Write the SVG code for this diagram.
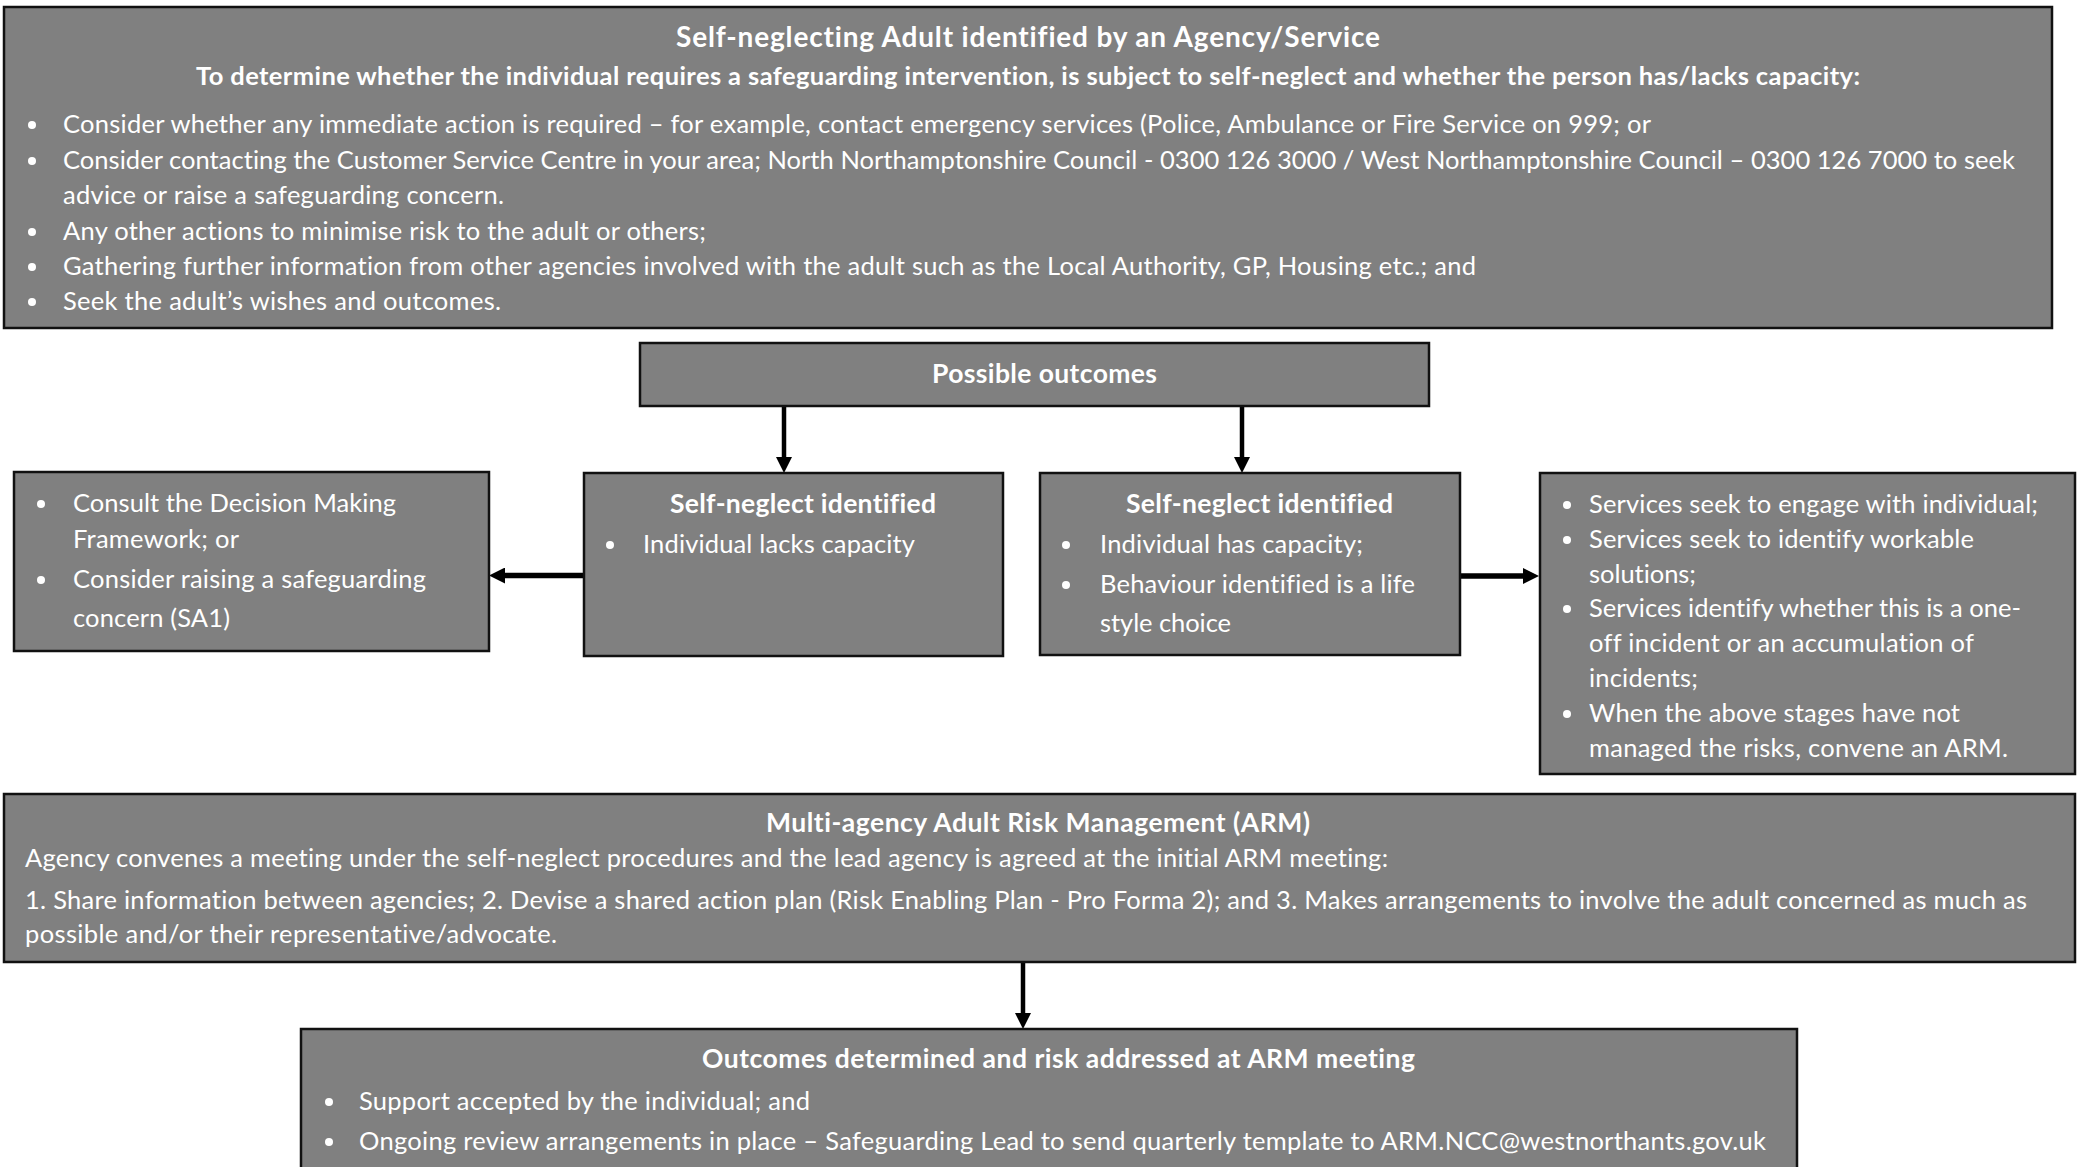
<svg xmlns="http://www.w3.org/2000/svg" width="2080" height="1167" viewBox="0 0 2080 1167">
<defs>
<style>
.box{fill:#808080;stroke:#111;stroke-width:2.5}
.t{font-family:Lato,'Open Sans','Liberation Sans',sans-serif;fill:#fff;font-size:25.5px;font-variant-ligatures:none}
.b{font-weight:bold;font-size:26.5px}
.h{font-weight:bold;font-size:28px}
.s{font-weight:bold;font-size:25.5px}
.dot{fill:#fff}
.conn{stroke:#000;fill:none}
.v{stroke-width:4.5}
.hz{stroke-width:5.5}
</style>
<marker id="ah" viewBox="0 0 16 16" markerWidth="16" markerHeight="16" refX="4" refY="8" orient="auto" markerUnits="userSpaceOnUse">
<path d="M0,0 L16,8 L0,16 z" fill="#000"/>
</marker>
</defs>
<rect width="2080" height="1167" fill="#fff"/>

<g id="connectors">
<path class="conn v" d="M784,406 V461" marker-end="url(#ah)"/>
<path class="conn v" d="M1242,406 V461" marker-end="url(#ah)"/>
<path class="conn hz" d="M584,575.5 H501" marker-end="url(#ah)"/>
<path class="conn hz" d="M1460,576 H1527" marker-end="url(#ah)"/>
<path class="conn v" d="M1023,962 V1017" marker-end="url(#ah)"/>
</g>

<g id="node-identified">
<rect class="box" x="4" y="7" width="2048" height="321"/>
<text class="t h" x="676" y="47" textLength="704">Self-neglecting Adult identified by an Agency/Service</text>
<text class="t s" x="196" y="85" textLength="1664">To determine whether the individual requires a safeguarding intervention, is subject to self-neglect and whether the person has/lacks capacity:</text>
<circle class="dot" cx="32" cy="125" r="4"/>
<text class="t" x="63" y="133" textLength="1588">Consider whether any immediate action is required – for example, contact emergency services (Police, Ambulance or Fire Service on 999; or</text>
<circle class="dot" cx="32" cy="161" r="4"/>
<text class="t" x="63" y="169" textLength="1952">Consider contacting the Customer Service Centre in your area; North Northamptonshire Council - 0300 126 3000 / West Northamptonshire Council – 0300 126 7000 to seek</text>
<text class="t" x="63" y="204" textLength="441">advice or raise a safeguarding concern.</text>
<circle class="dot" cx="32" cy="232" r="4"/>
<text class="t" x="63" y="240" textLength="643">Any other actions to minimise risk to the adult or others;</text>
<circle class="dot" cx="32" cy="267" r="4"/>
<text class="t" x="63" y="275" textLength="1413">Gathering further information from other agencies involved with the adult such as the Local Authority, GP, Housing etc.; and</text>
<circle class="dot" cx="32" cy="302" r="4"/>
<text class="t" x="63" y="310" textLength="438">Seek the adult’s wishes and outcomes.</text>
</g>

<g id="node-possible-outcomes">
<rect class="box" x="640" y="343" width="789" height="63"/>
<text class="t b" x="932" y="383" textLength="225">Possible outcomes</text>
</g>

<g id="node-decision-making">
<rect class="box" x="14" y="472" width="475" height="179"/>
<circle class="dot" cx="41" cy="504" r="4"/>
<text class="t" x="73" y="512" textLength="323">Consult the Decision Making</text>
<text class="t" x="73" y="548" textLength="166">Framework; or</text>
<circle class="dot" cx="41" cy="580" r="4"/>
<text class="t" x="73" y="588" textLength="353">Consider raising a safeguarding</text>
<text class="t" x="73" y="627" textLength="157">concern (SA1)</text>
</g>

<g id="node-lacks-capacity">
<rect class="box" x="584" y="473" width="419" height="183"/>
<text class="t b" x="670" y="513" textLength="266">Self-neglect identified</text>
<circle class="dot" cx="610" cy="545" r="4"/>
<text class="t" x="643" y="553" textLength="272">Individual lacks capacity</text>
</g>

<g id="node-has-capacity">
<rect class="box" x="1040" y="473" width="420" height="182"/>
<text class="t b" x="1126" y="513" textLength="267">Self-neglect identified</text>
<circle class="dot" cx="1066" cy="545" r="4"/>
<text class="t" x="1100" y="553" textLength="263">Individual has capacity;</text>
<circle class="dot" cx="1066" cy="585" r="4"/>
<text class="t" x="1100" y="593" textLength="315">Behaviour identified is a life</text>
<text class="t" x="1100" y="632" textLength="131">style choice</text>
</g>

<g id="node-services">
<rect class="box" x="1540" y="473" width="535" height="301"/>
<circle class="dot" cx="1567" cy="505" r="4"/>
<text class="t" x="1589" y="513" textLength="449">Services seek to engage with individual;</text>
<circle class="dot" cx="1567" cy="540" r="4"/>
<text class="t" x="1589" y="548" textLength="385">Services seek to identify workable</text>
<text class="t" x="1589" y="583" textLength="107">solutions;</text>
<circle class="dot" cx="1567" cy="609" r="4"/>
<text class="t" x="1589" y="617" textLength="432">Services identify whether this is a one-</text>
<text class="t" x="1589" y="652" textLength="385">off incident or an accumulation of</text>
<text class="t" x="1589" y="687" textLength="109">incidents;</text>
<circle class="dot" cx="1567" cy="714" r="4"/>
<text class="t" x="1589" y="722" textLength="371">When the above stages have not</text>
<text class="t" x="1589" y="757" textLength="419">managed the risks, convene an ARM.</text>
</g>

<g id="node-arm">
<rect class="box" x="4" y="794" width="2071" height="168"/>
<text class="t b" x="766" y="832" textLength="544">Multi-agency Adult Risk Management (ARM)</text>
<text class="t" x="25" y="867" textLength="1363">Agency convenes a meeting under the self-neglect procedures and the lead agency is agreed at the initial ARM meeting:</text>
<text class="t" x="25" y="909" textLength="2002">1. Share information between agencies; 2. Devise a shared action plan (Risk Enabling Plan - Pro Forma 2); and 3. Makes arrangements to involve the adult concerned as much as</text>
<text class="t" x="25" y="943" textLength="532">possible and/or their representative/advocate.</text>
</g>

<g id="node-outcomes">
<rect class="box" x="301" y="1029" width="1496" height="160"/>
<text class="t b" x="702" y="1068" textLength="713">Outcomes determined and risk addressed at ARM meeting</text>
<circle class="dot" cx="329" cy="1102" r="4"/>
<text class="t" x="359" y="1110" textLength="451">Support accepted by the individual; and</text>
<circle class="dot" cx="329" cy="1142" r="4"/>
<text class="t" x="359" y="1150" textLength="1407">Ongoing review arrangements in place – Safeguarding Lead to send quarterly template to ARM.NCC@westnorthants.gov.uk</text>
</g>
</svg>
